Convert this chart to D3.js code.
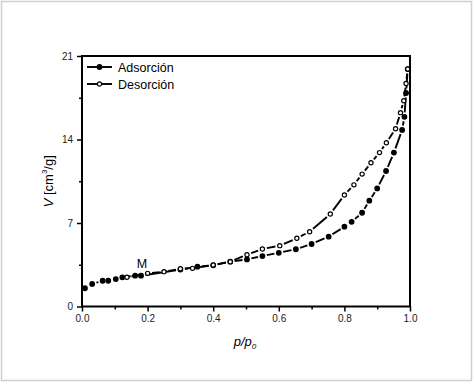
<!DOCTYPE html>
<html>
<head>
<meta charset="utf-8">
<script src="https://cdn.jsdelivr.net/npm/d3@7"></script>
<style>
    body { margin: 0; background: #fff; }
    text { font-family: Arial, "Liberation Sans", sans-serif; }
</style>
</head>
<body>
<script>
// adsorption (filled markers)
var adsP = [0.009, 0.031, 0.063, 0.08, 0.103, 0.123, 0.162, 0.18, 0.3, 0.352, 0.4, 0.452, 0.503, 0.55, 0.6, 0.652, 0.7, 0.752, 0.8, 0.822, 0.854, 0.876, 0.9, 0.927, 0.951, 0.976, 0.983, 0.988, 0.993];
var adsV = [1.53, 1.89, 2.16, 2.16, 2.3, 2.45, 2.58, 2.58, 3.1, 3.34, 3.45, 3.76, 3.95, 4.23, 4.5, 4.8, 5.24, 5.85, 6.69, 7.1, 7.86, 8.87, 9.9, 11.36, 12.9, 14.8, 15.9, 17.9, 19.9];
// desorption (open markers)
var desP = [0.137, 0.2, 0.25, 0.3, 0.337, 0.4, 0.452, 0.503, 0.55, 0.603, 0.655, 0.694, 0.757, 0.8, 0.829, 0.854, 0.881, 0.907, 0.928, 0.956, 0.971, 0.981, 0.988, 0.993];
var desV = [2.45, 2.78, 2.92, 3.16, 3.2, 3.48, 3.76, 4.34, 4.82, 5.1, 5.72, 6.27, 7.75, 9.35, 10.2, 11.1, 12.05, 12.9, 13.73, 14.9, 16.25, 17.25, 18.7, 19.9];

var xTicks = [0.0, 0.2, 0.4, 0.6, 0.8, 1.0];
var yTicks = [0, 7, 14, 21];
var legendNames = ['Adsorción', 'Desorción'];

var WIDTH = 474;
var HEIGHT = 384;
var LEFT = 82, RIGHT = 410, TOP = 56, BOTTOM = 306.5;
var GAP = 4.5;

var svg = d3.select('body').append('svg')
    .attr('width', WIDTH)
    .attr('height', HEIGHT);

// light outer border
svg.append('rect')
    .attr('x', 1.5).attr('y', 1.5)
    .attr('width', WIDTH - 4).attr('height', HEIGHT - 5)
    .attr('fill', 'none')
    .attr('stroke', '#cfcfcf')
    .attr('stroke-width', 1.5);

var x = d3.scaleLinear().domain([0, 1]).range([LEFT, RIGHT]);
var y = d3.scaleLinear().domain([0, 21]).range([BOTTOM, TOP]);

function zip(ps, vs){
    return ps.map(function(p, i){ return {p: p, v: vs[i]}; });
}
var ads = zip(adsP, adsV);
var des = zip(desP, desV);

// axes
var xAxis = d3.axisBottom(x).tickValues(xTicks).tickSize(5).tickPadding(3)
    .tickFormat(d3.format('.1f'));
var xMinor = d3.axisBottom(x).tickValues([0.1, 0.3, 0.5, 0.7, 0.9]).tickSize(3).tickFormat('');
var yAxis = d3.axisLeft(y).tickValues(yTicks).tickSize(5).tickPadding(4);
var yMinor = d3.axisLeft(y).tickValues([3.5, 10.5, 17.5]).tickSize(3).tickFormat('');

function styleAxis(g){
    g.select('.domain').remove();
    g.selectAll('line').attr('stroke', '#000').attr('stroke-width', 1.5);
    g.selectAll('text').attr('font-size', 10).attr('fill', '#222')
        .attr('font-family', 'Arial, "Liberation Sans", sans-serif');
}

svg.append('g').attr('transform', 'translate(0,' + BOTTOM + ')').call(xAxis).call(styleAxis);
svg.append('g').attr('transform', 'translate(0,' + BOTTOM + ')').call(xMinor).call(styleAxis);
svg.append('g').attr('transform', 'translate(' + LEFT + ',0)').call(yAxis).call(styleAxis);
svg.append('g').attr('transform', 'translate(' + LEFT + ',0)').call(yMinor).call(styleAxis);

// frame
svg.append('rect')
    .attr('x', LEFT).attr('y', TOP)
    .attr('width', RIGHT - LEFT).attr('height', BOTTOM - TOP)
    .attr('fill', 'none')
    .attr('stroke', '#000')
    .attr('stroke-width', 2);

// line segments broken around each marker
function segments(data){
    var segs = [];
    for (var i = 1; i < data.length; i++){
        var x1 = x(data[i-1].p), y1 = y(data[i-1].v);
        var x2 = x(data[i].p), y2 = y(data[i].v);
        var len = Math.sqrt((x2-x1)*(x2-x1) + (y2-y1)*(y2-y1));
        if (len <= 2*GAP + 1) continue;
        var ux = (x2-x1)/len, uy = (y2-y1)/len;
        segs.push({x1: x1 + ux*GAP, y1: y1 + uy*GAP, x2: x2 - ux*GAP, y2: y2 - uy*GAP});
    }
    return segs;
}

function drawSeries(data, cls, fill){
    svg.selectAll('.seg-' + cls).data(segments(data)).enter()
        .append('line')
        .attr('class', 'seg-' + cls)
        .attr('x1', function(d){return d.x1;})
        .attr('y1', function(d){return d.y1;})
        .attr('x2', function(d){return d.x2;})
        .attr('y2', function(d){return d.y2;})
        .attr('stroke', '#000')
        .attr('stroke-width', 1.9);
    svg.selectAll('.pt-' + cls).data(data).enter()
        .append('circle')
        .attr('class', 'pt-' + cls)
        .attr('cx', function(d){return x(d.p);})
        .attr('cy', function(d){return y(d.v);})
        .attr('r', fill ? 2.3 : 2.1)
        .attr('fill', fill ? '#000' : '#fff')
        .attr('stroke', '#000')
        .attr('stroke-width', 1.2);
}

drawSeries(ads, 'ads', true);
drawSeries(des, 'des', false);

// legend
var legend = svg.selectAll('.legend').data(legendNames).enter()
    .append('g')
    .attr('class', 'legend')
    .attr('transform', function(d, i){return 'translate(87,' + (67 + i*17) + ')';});
legend.append('line')
    .attr('x1', 0).attr('x2', 25).attr('y1', 0).attr('y2', 0)
    .attr('stroke', '#000').attr('stroke-width', 1.9);
legend.append('circle')
    .attr('cx', 12.5).attr('cy', 0)
    .attr('r', function(d, i){return i === 0 ? 2.3 : 2.1;})
    .attr('fill', function(d, i){return i === 0 ? '#000' : '#fff';})
    .attr('stroke', '#000').attr('stroke-width', 1.2);
legend.append('text')
    .attr('x', 31).attr('y', 4.5)
    .attr('font-size', 12.5)
    .attr('fill', '#000')
    .text(function(d){return d;});

// annotation
svg.append('text')
    .attr('x', 142).attr('y', 268)
    .attr('text-anchor', 'middle')
    .attr('font-size', 12.5)
    .text('M');

// axis titles
var yTitle = svg.append('text')
    .attr('transform', 'translate(53,' + ((TOP + BOTTOM)/2) + ') rotate(-90)')
    .attr('text-anchor', 'middle')
    .attr('font-size', 13);
yTitle.append('tspan').attr('font-style', 'italic').text('V');
yTitle.append('tspan').text('  [cm');
yTitle.append('tspan').attr('font-size', 8).attr('dy', -6).text('3');
yTitle.append('tspan').attr('dy', 6).text('/g]');

var xTitle = svg.append('text')
    .attr('x', 245).attr('y', 346)
    .attr('text-anchor', 'middle')
    .attr('font-size', 13)
    .attr('font-style', 'italic');
xTitle.append('tspan').text('p/p');
xTitle.append('tspan').attr('font-size', 8).attr('dy', 3).text('0');
</script>
</body>
</html>
